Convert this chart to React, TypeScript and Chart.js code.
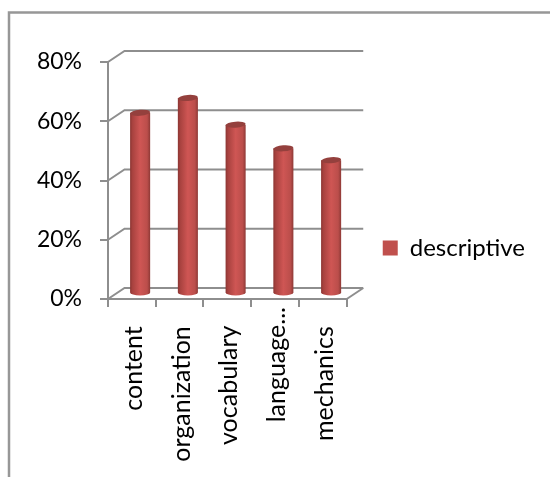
import { useEffect, useRef } from "react";
import { Chart, registerables } from "chart.js";

Chart.register(...registerables);

const categories = ["content", "organization", "vocabulary", "language...", "mechanics"];
const seriesName = "descriptive";
const seriesValues = [61, 66, 57, 49, 45];
const axisTicks = [0, 20, 40, 60, 80];

const FONT = "Lato";
const GRID = "#8e8e8e";
const BAR = "#C0504D";
const DEPTH_X = 16.5;
const DEPTH_Y = 11;
const LEGEND_LIFT = 21.5;

// Raises the legend from the centre of its column to beside the lower half of the plot.
const legendOffsetPlugin = {
  id: "legendOffset",
  afterLayout(chart: any) {
    chart.legend.top -= LEGEND_LIFT;
    chart.legend.bottom -= LEGEND_LIFT;
  },
};

// Draws the outer frame and the walls and floor of the 3D box behind the columns.
const wallsPlugin = {
  id: "walls",
  beforeDatasetsDraw(chart: any) {
    const { ctx, chartArea: a, scales } = chart;
    ctx.save();
    ctx.strokeStyle = "#979797";
    ctx.lineWidth = 2.5;
    ctx.beginPath();
    ctx.moveTo(9, 477);
    ctx.lineTo(9, 12.5);
    ctx.lineTo(550, 12.5);
    ctx.stroke();

    ctx.strokeStyle = GRID;
    ctx.lineWidth = 2;
    for (const t of axisTicks) {
      const y = scales.y.getPixelForValue(t);
      ctx.beginPath();
      ctx.moveTo(a.left, y);
      ctx.lineTo(a.left + DEPTH_X, y - DEPTH_Y);
      ctx.lineTo(a.right + DEPTH_X, y - DEPTH_Y);
      ctx.stroke();
    }
    const base = scales.y.getPixelForValue(0);
    ctx.beginPath();
    ctx.moveTo(a.right, base);
    ctx.lineTo(a.right + DEPTH_X, base - DEPTH_Y);
    ctx.stroke();
    ctx.restore();
  },
};

// Replaces the flat bars with shaded cylinders standing mid-way into the box.
const cylinderPlugin = {
  id: "cylinders",
  beforeDatasetDraw(chart: any, args: any) {
    const { ctx } = chart;
    const dx = DEPTH_X / 2;
    const dy = DEPTH_Y / 2;
    for (const el of chart.getDatasetMeta(args.index).data) {
      const { x, y, base, width } = el.getProps(["x", "y", "base", "width"], true);
      const cx = x + dx;
      const left = cx - width / 2;
      const top = y - dy;
      const bottom = base - dy;
      const ry = 3;
      const g = ctx.createLinearGradient(left, 0, left + width, 0);
      g.addColorStop(0, "#8b3532");
      g.addColorStop(0.12, "#a8423f");
      g.addColorStop(0.5, "#cf5654");
      g.addColorStop(0.85, "#bb4e4b");
      g.addColorStop(1, "#8e3936");
      ctx.save();
      ctx.fillStyle = g;
      ctx.beginPath();
      ctx.moveTo(left, top);
      ctx.lineTo(left, bottom);
      ctx.ellipse(cx, bottom, width / 2, ry, 0, Math.PI, 0, true);
      ctx.lineTo(left + width, top);
      ctx.closePath();
      ctx.fill();
      ctx.fillStyle = "#94403d";
      ctx.beginPath();
      ctx.ellipse(cx, top, width / 2, ry, -0.08, 0, Math.PI * 2);
      ctx.fill();
      ctx.restore();
    }
    return false;
  },
};

export default function App() {
  const ref = useRef<HTMLCanvasElement>(null);
  useEffect(() => {
    const chart = new Chart(ref.current as HTMLCanvasElement, {
      type: "bar",
      data: {
        labels: categories,
        datasets: [
          {
            label: seriesName,
            data: seriesValues,
            backgroundColor: BAR,
            barPercentage: 0.42,
            categoryPercentage: 1,
          },
        ],
      },
      plugins: [legendOffsetPlugin, wallsPlugin, cylinderPlugin],
      options: {
        responsive: false,
        animation: false,
        layout: { padding: { top: 62, bottom: 0, left: 0, right: 15 } },
        plugins: {
          tooltip: { enabled: false },
          title: { display: false },
          legend: {
            position: "right",
            maxWidth: 202,
            labels: {
              boxWidth: 15,
              boxHeight: 15,
              padding: 36,
              color: "#000",
              font: { family: FONT, size: 24 },
            },
          },
        },
        scales: {
          x: {
            afterFit: (s: any) => {
              s.height = 178;
            },
            border: { color: GRID, width: 2 },
            grid: { drawOnChartArea: false, color: GRID, lineWidth: 2, tickLength: 8 },
            ticks: {
              autoSkip: false,
              minRotation: 90,
              maxRotation: 90,
              color: "#000",
              padding: 0,
              labelOffset: 2,
              font: { family: FONT, size: 25 },
              callback: (_v: any, i: number) =>
                categories[i].endsWith("...") ? categories[i] : categories[i] + "\u00a0\u00a0\u00a0",
            },
          },
          y: {
            min: 0,
            max: 80,
            afterFit: (s: any) => {
              s.width = 108;
            },
            border: { color: GRID, width: 2 },
            grid: { drawOnChartArea: false, color: GRID, lineWidth: 2, tickLength: 8 },
            ticks: {
              stepSize: 20,
              color: "#000",
              padding: 18,
              font: { family: FONT, size: 23 },
              callback: (v: any) => `${v}%`,
            },
          },
        },
      },
    } as any);
    return () => chart.destroy();
  }, []);
  return (
    <div style={{ position: "fixed", left: 0, top: 0, width: 550, height: 477, background: "#fff" }}>
      <canvas ref={ref} width={550} height={477} style={{ display: "block" }} />
    </div>
  );
}
